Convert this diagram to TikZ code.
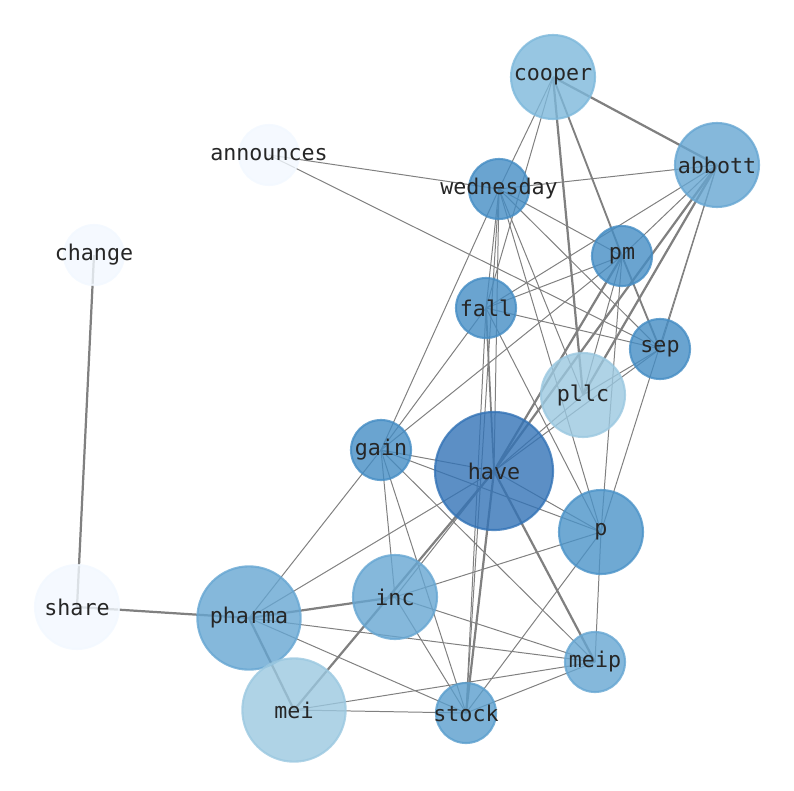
\documentclass[tikz,border=0pt]{standalone}
\usepackage{fontspec}
\setmonofont{DejaVu Sans Mono}
\usetikzlibrary{backgrounds}

\definecolor{edgegray}{RGB}{128,128,128}
\definecolor{shadeA}{RGB}{51,115,182}
\definecolor{shadeB}{RGB}{69,141,196}
\definecolor{shadeBp}{RGB}{75,147,200}
\definecolor{shadeCs}{RGB}{90,158,205}
\definecolor{shadeC}{RGB}{102,166,210}
\definecolor{shadeD}{RGB}{125,184,219}
\definecolor{shadeE}{RGB}{155,200,224}
\definecolor{shadeF}{RGB}{242,248,255}

\tikzset{
  vertex/.style={circle, draw=#1, fill=#1, line width=1.8pt, inner sep=0pt,
    fill opacity=0.8, draw opacity=0.8, text opacity=1, text=black!85,
    font=\ttfamily\fontsize{18.5}{20}\selectfont},
  small/.style={minimum size=1.8cm},
  medium/.style={minimum size=2.52cm},
  large/.style={minimum size=3.1cm},
  huge/.style={minimum size=3.54cm},
  link/.style={draw=edgegray, line width=0.85pt},
  heavy/.style={line width=1.9pt},
}

\begin{document}
\begin{tikzpicture}[x=0.03cm, y=-0.03cm]
  \useasboundingbox (0,0) rectangle (794,790);
  \draw
    (553,77) node[vertex=shadeD, medium] (cooper){\makebox[0pt]{cooper}}
    (717,165) node[vertex=shadeC, medium] (abbott){\makebox[0pt]{abbott}}
    (269,155) node[vertex=shadeF, small] (announces){\makebox[0pt]{announces}}
    (499,189) node[vertex=shadeB, small] (wednesday){\makebox[0pt]{wednesday}}
    (94,255) node[vertex=shadeF, small] (change){\makebox[0pt]{change}}
    (622,256) node[vertex=shadeB, small] (pm){\makebox[0pt]{pm}}
    (486,308) node[vertex=shadeB, small] (fall){\makebox[0pt]{fall}}
    (660,349) node[vertex=shadeB, small] (sep){\makebox[0pt]{sep}}
    (583,395) node[vertex=shadeE, medium] (pllc){\makebox[0pt]{pllc}}
    (381,450) node[vertex=shadeB, small] (gain){\makebox[0pt]{gain}}
    (494,471) node[vertex=shadeA, huge] (have){\makebox[0pt]{have}}
    (601,532) node[vertex=shadeBp, medium] (p){\makebox[0pt]{p}}
    (77,607) node[vertex=shadeF, medium] (share){\makebox[0pt]{share}}
    (249,618) node[vertex=shadeC, large] (pharma){\makebox[0pt]{pharma}}
    (395,597) node[vertex=shadeC, medium] (inc){\makebox[0pt]{inc}}
    (595,662) node[vertex=shadeC, small] (meip){\makebox[0pt]{meip}}
    (294,710) node[vertex=shadeE, large] (mei){\makebox[0pt]{mei}}
    (466,713) node[vertex=shadeCs, small] (stock){\makebox[0pt]{stock}};
  \begin{scope}[on background layer={link}]
    \draw[heavy] (change.center) to (share.center);
    \draw[heavy] (share.center) to (pharma.center);
    \draw[heavy] (cooper.center) to (abbott.center);
    \draw[heavy] (cooper.center) to (pllc.center);
    \draw[line width=1.6pt] (cooper.center) to (pm.center);
    \draw[line width=1.6pt] (pm.center) to (sep.center);
    \draw[heavy] (abbott.center) to (pllc.center);
    \draw[heavy] (abbott.center) to (have.center);
    \draw[heavy] (pm.center) to (have.center);
    \draw[heavy] (have.center) to (stock.center);
    \draw[heavy] (have.center) to (meip.center);
    \draw[heavy] (pharma.center) to (inc.center);
    \draw[heavy] (pharma.center) to (mei.center);
    \draw[heavy] (mei.center) to (have.center);
    \draw[line width=1.5pt] (fall.center) to (have.center);
    \draw (announces.center) to (wednesday.center);
    \draw (announces.center) to (sep.center);
    \draw (cooper.center) to (wednesday.center);
    \draw (cooper.center) to (fall.center);
    \draw (abbott.center) to (wednesday.center);
    \draw (abbott.center) to (pm.center);
    \draw (abbott.center) to (fall.center);
    \draw (abbott.center) to (sep.center);
    \draw (abbott.center) to (p.center);
    \draw (wednesday.center) to (pm.center);
    \draw (wednesday.center) to (sep.center);
    \draw (wednesday.center) to (fall.center);
    \draw (wednesday.center) to (gain.center);
    \draw (wednesday.center) to (have.center);
    \draw (wednesday.center) to (pllc.center);
    \draw (wednesday.center) to (p.center);
    \draw (wednesday.center) to (stock.center);
    \draw (pm.center) to (fall.center);
    \draw (pm.center) to (gain.center);
    \draw (pm.center) to (pllc.center);
    \draw (pm.center) to (p.center);
    \draw (fall.center) to (gain.center);
    \draw (fall.center) to (sep.center);
    \draw (fall.center) to (p.center);
    \draw (fall.center) to (stock.center);
    \draw (sep.center) to (pllc.center);
    \draw (sep.center) to (have.center);
    \draw (pllc.center) to (have.center);
    \draw (gain.center) to (have.center);
    \draw (gain.center) to (p.center);
    \draw (gain.center) to (pharma.center);
    \draw (gain.center) to (inc.center);
    \draw (gain.center) to (stock.center);
    \draw (gain.center) to (meip.center);
    \draw (have.center) to (p.center);
    \draw (have.center) to (pharma.center);
    \draw (have.center) to (inc.center);
    \draw (p.center) to (inc.center);
    \draw (p.center) to (stock.center);
    \draw (p.center) to (meip.center);
    \draw (pharma.center) to (meip.center);
    \draw (pharma.center) to (stock.center);
    \draw (inc.center) to (meip.center);
    \draw (inc.center) to (stock.center);
    \draw (mei.center) to (stock.center);
    \draw (mei.center) to (meip.center);
    \draw (stock.center) to (meip.center);
  \end{scope}
\end{tikzpicture}
\end{document}
